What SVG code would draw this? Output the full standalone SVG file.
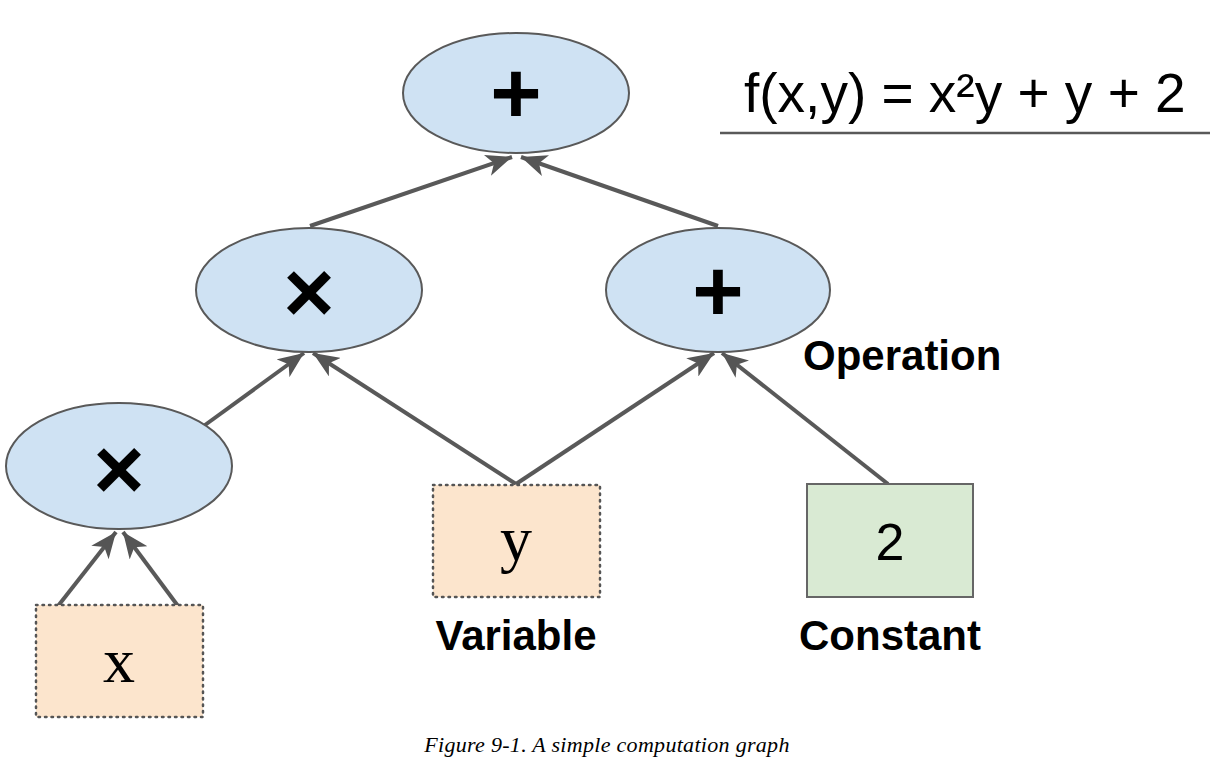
<svg xmlns="http://www.w3.org/2000/svg" width="1216" height="776" viewBox="0 0 1216 776">
<style>
.op{fill:#cfe2f3;stroke:#595959;stroke-width:2}
.var{fill:#fce5cd;stroke:#555;stroke-width:2.5;stroke-dasharray:1.5 5;stroke-linecap:round}
.const{fill:#d9ead3;stroke:#666;stroke-width:2}
.sym{font-family:"Liberation Sans",Arial,sans-serif;font-weight:bold;font-size:88px;text-anchor:middle;fill:#000}
.ser{font-family:"Liberation Serif","Times New Roman",serif;font-size:64px;text-anchor:middle;fill:#000}
.lbl{font-family:"Liberation Sans",Arial,sans-serif;font-weight:bold;font-size:42px;fill:#000}
.edge{stroke:#595959;stroke-width:4;fill:none;marker-end:url(#ah)}
</style>
<defs>
<marker id="ah" markerUnits="userSpaceOnUse" viewBox="0 0 26 22" refX="26" refY="11" markerWidth="26" markerHeight="22" orient="auto">
<path d="M0,0 L26,11 L0,22 L7,11 z" fill="#555"/>
</marker>
</defs>
<rect width="1216" height="776" fill="#fff"/>
<g id="connectors">
<line class="edge" x1="310" y1="226" x2="512" y2="157"/>
<line class="edge" x1="718" y1="226" x2="521" y2="157"/>
<line class="edge" x1="205" y1="425" x2="304" y2="353"/>
<line class="edge" x1="516" y1="484" x2="313" y2="353"/>
<line class="edge" x1="516" y1="484" x2="714" y2="353"/>
<line class="edge" x1="888" y1="484" x2="722" y2="353"/>
<line class="edge" x1="58" y1="606" x2="116" y2="532"/>
<line class="edge" x1="178" y1="606" x2="123" y2="532"/>
</g>
<g id="op-top">
<ellipse class="op" cx="516" cy="93" rx="113" ry="60"/>
<text class="sym" x="516" y="123">+</text>
</g>
<g id="op-mul1">
<ellipse class="op" cx="309" cy="290" rx="113" ry="62"/>
<text class="sym" x="309" y="322" font-size="94">×</text>
</g>
<g id="op-add2">
<ellipse class="op" cx="718" cy="290" rx="112" ry="62"/>
<text class="sym" x="718" y="321">+</text>
</g>
<g id="op-mul2">
<ellipse class="op" cx="119" cy="466" rx="113" ry="63"/>
<text class="sym" x="119" y="499" font-size="94">×</text>
</g>
<g id="var-x">
<rect class="var" x="36" y="605" width="167" height="112"/>
<text class="ser" x="119" y="682">x</text>
</g>
<g id="var-y">
<rect class="var" x="433" y="485" width="167" height="112"/>
<text class="ser" x="516" y="560">y</text>
</g>
<g id="const-2">
<rect class="const" x="807" y="484" width="166" height="113"/>
<text x="890" y="560" font-family="Liberation Sans,Arial,sans-serif" font-size="52" text-anchor="middle">2</text>
</g>
<g id="labels">
<text class="lbl" x="803" y="370">Operation</text>
<text class="lbl" x="516" y="650" text-anchor="middle">Variable</text>
<text class="lbl" x="890" y="650" text-anchor="middle">Constant</text>
</g>
<g id="formula">
<text x="744" y="112" font-family="Liberation Sans,Arial,sans-serif" font-size="55">f(x,y) = x²y + y + 2</text>
<line x1="720" y1="133" x2="1210" y2="133" stroke="#595959" stroke-width="2.5"/>
</g>
<text x="607" y="752" font-family="Liberation Serif,Times New Roman,serif" font-style="italic" font-size="22" letter-spacing="0.3" text-anchor="middle">Figure 9-1. A simple computation graph</text>
</svg>
